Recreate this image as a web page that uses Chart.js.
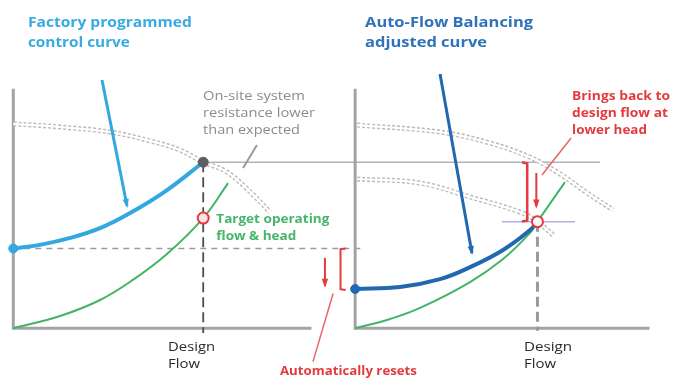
<!DOCTYPE html>
<html><head><meta charset="utf-8">
<script src="https://cdn.jsdelivr.net/npm/chart.js@4.4.0/dist/chart.umd.min.js"></script>
<style>html,body{margin:0;padding:0;background:#fff;}#wrap{position:relative;width:678px;height:381px;}</style>
</head><body><div id="wrap"><canvas id="c"></canvas></div>
<script>
// ===== DATA (x = flow units, y = head units) =====
const axisLeftX = [0, 0, 157];
const axisLeftY = [100, 0, 0];
const axisRightX = [180, 180, 335];
const axisRightY = [100, 0, 0];

// pump curves (dotted)
const pumpLeftX = [0, 24.6, 50.9, 72, 87.8, 100, 111.5, 122, 135.2];
const pumpLeftY = [85.3, 84, 81.9, 78.2, 74.4, 69.3, 65.7, 59, 48.5];
const pumpRightX = [181, 224.7, 251, 272.1, 286.3, 302.1, 315.8];
const pumpRightY = [84.8, 81.9, 77.3, 71.4, 65.2, 56.5, 49.4];
const pumpAdjX = [181, 214.2, 240.5, 266.8, 276, 284.2];
const pumpAdjY = [62.3, 60.6, 54.8, 48.5, 44.5, 38.9];

// control curves
const ctrlLeftX = [0, 14, 30, 46, 61.5, 81, 100];
const ctrlLeftY = [33.3, 34.8, 37.7, 41.9, 48.1, 57.7, 69.3];
const ctrlRightX = [180, 203.6, 224.7, 240.5, 257.9, 272.1, 276];
const ctrlRightY = [16.4, 17.2, 20.5, 25.5, 32.7, 41, 44.5];

// system curves
const sysLeftX = [0, 24.6, 45.7, 63, 80.9, 100, 113.1];
const sysLeftY = [0, 5.1, 11.8, 20.2, 31, 46, 60.6];
const sysRightX = [180, 198.4, 214.2, 240.5, 257.9, 272.1, 276, 290.5];
const sysRightY = [0, 3.9, 8.5, 19.3, 28.9, 39.8, 44.5, 61];

// reference lines
const designLeftX = [100, 100], designLeftY = [69.3, -2];
const designRightX = [276, 276], designRightY = [44.5, -1];
const headLineX = [100, 309], headLineY = [69.3, 69.3];
const targetLineX = [0, 185], targetLineY = [33.3, 33.3];
const purpleX = [257.3, 295.8], purpleY = [44.5, 44.5];

// brackets, arrows, pointers
const bracketLeftX = [175, 172.3, 172.3, 175], bracketLeftY = [33.3, 33, 16.3, 16];
const arrowRedLeftX = [164.1, 164.1], arrowRedLeftY = [29.3, 17.8];
const pointerLeftX = [168.4, 157.8], pointerLeftY = [14.5, -13.9];
const bracketRightX = [267.8, 270.6, 270.6, 267.8], bracketRightY = [69.3, 68.8, 45, 44.6];
const arrowRedRightX = [275.4, 275.4], arrowRedRightY = [64.8, 50.8];
const pointerRightX = [278.4, 293.7], pointerRightY = [64, 79.4];
const arrowBlueLeftX = [46.7, 59.9], arrowBlueLeftY = [103.6, 51];
const arrowBlueRightX = [224.7, 241.5], arrowBlueRightY = [106.1, 31.4];
const pointerGrayX = [121, 128.3], pointerGrayY = [66.9, 76.5];

// markers
const startLeft = [0, 33.3];
const opLeft = [100, 69.3];
const targetLeft = [100, 46];
const startRight = [180, 16.4];
const targetRight = [276, 44.5];

// text
const titleLeft = ['Factory programmed', 'control curve'];
const titleRight = ['Auto-Flow Balancing', 'adjusted curve'];
const noteGray = ['On-site system', 'resistance lower', 'than expected'];
const noteGreen = ['Target operating', 'flow & head'];
const noteRedRight = ['Brings back to', 'design flow at', 'lower head'];
const noteRedLeft = ['Automatically resets'];
const designLabel = ['Design', 'Flow'];

// ===== BUILD =====
const P = (xs, ys) => xs.map((x, i) => ({x, y: ys[i]}));
const C = {
  lblue: '#33a8e0', dblue: '#2168b0', green: '#42b468', red: '#e33b3f',
  gray: '#a3a3a3', dot: '#bcbcbc'
};
function line(xs, ys, color, width, extra) {
  return Object.assign({data: P(xs, ys), showLine: true, borderColor: color, backgroundColor: color,
    borderWidth: width, pointRadius: 0, tension: 0, clip: false, order: 5}, extra || {});
}
function marker(pt, fill, stroke, r, bw) {
  return {data: [{x: pt[0], y: pt[1]}], showLine: false, pointRadius: r, pointBackgroundColor: fill,
    pointBorderColor: stroke, pointBorderWidth: bw, clip: false, order: 0};
}
const curve = {tension: 0.4};
const datasets = [
  line(axisLeftX, axisLeftY, C.gray, 3, {order: 9}),
  line(axisRightX, axisRightY, C.gray, 3, {order: 9}),
  line(headLineX, headLineY, '#b3b3b3', 1.5, {order: 9}),
  line(targetLineX, targetLineY, '#9c9c9c', 1.5, {order: 9, borderDash: [6, 5]}),
  line(pumpLeftX, pumpLeftY, C.dot, 5, Object.assign({order: 8, borderDash: [3, 2]}, curve)),
  line(pumpLeftX, pumpLeftY, '#ffffff', 2.2, Object.assign({order: 7}, curve)),
  line(pumpRightX, pumpRightY, C.dot, 5, Object.assign({order: 8, borderDash: [3, 2]}, curve)),
  line(pumpRightX, pumpRightY, '#ffffff', 2.2, Object.assign({order: 7}, curve)),
  line(pumpAdjX, pumpAdjY, C.dot, 5, Object.assign({order: 8, borderDash: [3, 2]}, curve)),
  line(pumpAdjX, pumpAdjY, '#ffffff', 2.2, Object.assign({order: 7}, curve)),
  line(designLeftX, designLeftY, '#4d4d4d', 1.8, {order: 6, borderDash: [10, 5]}),
  line(designRightX, designRightY, '#9a9a9a', 3, {order: 6, borderDash: [10, 5]}),
  line(purpleX, purpleY, '#b9aadf', 1.5, {order: 6}),
  line(sysLeftX, sysLeftY, C.green, 2, Object.assign({order: 4}, curve)),
  line(sysRightX, sysRightY, C.green, 2, Object.assign({order: 4}, curve)),
  line(ctrlLeftX, ctrlLeftY, C.lblue, 4, Object.assign({order: 3}, curve)),
  line(ctrlRightX, ctrlRightY, C.dblue, 4, Object.assign({order: 3}, curve)),
  line(bracketLeftX, bracketLeftY, C.red, 2, {order: 2}),
  line(arrowRedLeftX, arrowRedLeftY, C.red, 2, {order: 2, arrow: 7}),
  line(pointerLeftX, pointerLeftY, '#e86466', 1.5, {order: 2}),
  line(bracketRightX, bracketRightY, C.red, 2.5, {order: 2}),
  line(arrowRedRightX, arrowRedRightY, C.red, 2, {order: 2, arrow: 7}),
  line(pointerRightX, pointerRightY, '#e86466', 1.5, {order: 2}),
  line(arrowBlueLeftX, arrowBlueLeftY, C.lblue, 3, {order: 2, arrow: 7}),
  line(arrowBlueRightX, arrowBlueRightY, C.dblue, 3, {order: 2, arrow: 7}),
  line(pointerGrayX, pointerGrayY, '#9a9a9a', 2, {order: 2}),
  marker(startLeft, C.lblue, C.lblue, 4.5, 1),
  marker(opLeft, '#5e5e5e', '#5e5e5e', 5, 1),
  marker(targetLeft, '#fbe3e3', C.red, 5.5, 2),
  marker(startRight, C.dblue, C.dblue, 4.5, 1),
  marker(targetRight, '#ffffff', C.red, 5.5, 2)
];

const FONT = '"Open Sans", "Noto Sans", sans-serif';
// text blocks: lines, anchor (data units), line step (data units), style
const texts = [
  {lines: titleLeft, x: 7.7, y: 127.4, step: 8.3, font: 'bold 15px ' + FONT, color: '#38abe2', w: [164, 102]},
  {lines: titleRight, x: 185.2, y: 127.4, step: 8.3, font: 'bold 15px ' + FONT, color: '#2f72b9', w: [168, 122]},
  {lines: noteGray, x: 99.9, y: 96.5, step: 7, font: '12px ' + FONT, color: '#8c8c8c', w: [102, 112, 97]},
  {lines: noteGreen, x: 106.9, y: 45.2, step: 7, font: 'bold 12px ' + FONT, color: '#45b56a', w: [113, 80]},
  {lines: noteRedRight, x: 294.2, y: 96.5, step: 7, font: 'bold 12px ' + FONT, color: '#e33b3f', w: [98, 96, 75]},
  {lines: noteRedLeft, x: 140.4, y: -18.2, step: 7, font: 'bold 12px ' + FONT, color: '#e33b3f', w: [137]},
  {lines: designLabel, x: 81.5, y: -8.2, step: 7.1, font: '12px ' + FONT, color: '#2a2a2a', w: [47, 32]},
  {lines: designLabel, x: 268.9, y: -8.2, step: 7.1, font: '12px ' + FONT, color: '#2a2a2a', w: [48, 32]}
];

const annot = {
  id: 'annot',
  afterDatasetsDraw(chart) {
    const ctx = chart.ctx, sx = chart.scales.x, sy = chart.scales.y;
    chart.data.datasets.forEach((ds, i) => {
      if (!ds.arrow) return;
      const pts = chart.getDatasetMeta(i).data;
      const a = pts[pts.length - 2], b = pts[pts.length - 1];
      const ang = Math.atan2(b.y - a.y, b.x - a.x), L = ds.arrow;
      ctx.save(); ctx.fillStyle = ds.borderColor; ctx.translate(b.x, b.y); ctx.rotate(ang);
      ctx.beginPath(); ctx.moveTo(2, 0); ctx.lineTo(-L, -L * 0.45); ctx.lineTo(-L, L * 0.45); ctx.closePath(); ctx.fill();
      ctx.restore();
    });
    texts.forEach(t => {
      ctx.save(); ctx.font = t.font; ctx.fillStyle = t.color; ctx.textBaseline = 'middle'; ctx.textAlign = 'left';
      t.lines.forEach((s, k) => {
        const px = sx.getPixelForValue(t.x), py = sy.getPixelForValue(t.y - k * t.step);
        const mw = ctx.measureText(s).width, f = t.w ? t.w[k] / mw : 1;
        ctx.save(); ctx.translate(px, py); ctx.scale(f, 1); ctx.fillText(s, 0, 0); ctx.restore();
      });
      ctx.restore();
    });
  }
};

new Chart(document.getElementById('c'), {
  type: 'scatter',
  data: {datasets},
  options: {
    responsive: true, maintainAspectRatio: false, animation: false, events: [],
    layout: {padding: 0, autoPadding: false},
    plugins: {legend: {display: false}, tooltip: {enabled: false}},
    scales: {
      x: {type: 'linear', min: -7, max: 350, display: false},
      y: {type: 'linear', min: -22, max: 137, display: false}
    }
  },
  plugins: [annot]
});
</script></body></html>
